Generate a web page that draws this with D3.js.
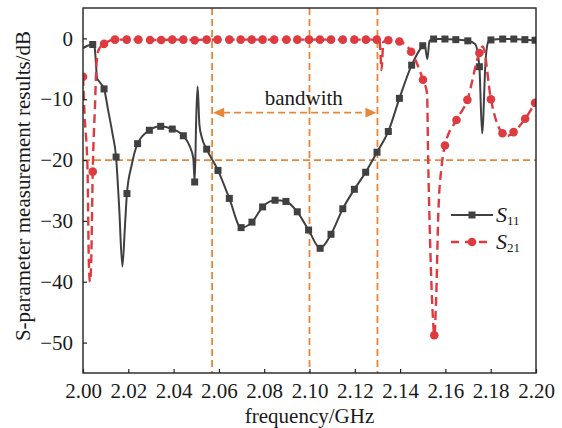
<!DOCTYPE html>
<html>
<head>
<meta charset="utf-8">
<script src="https://cdn.jsdelivr.net/npm/d3@7"></script>
<style>
  body { margin: 0; background: #fff; }
  text { font-family: "Liberation Serif", "Times New Roman", serif; fill: #1a1a1a; }
</style>
</head>
<body>
<svg id="chart" width="562" height="428"></svg>
<script>
// ---- data -------------------------------------------------------------
const freqTicks = [2.00, 2.02, 2.04, 2.06, 2.08, 2.10, 2.12, 2.14, 2.16, 2.18, 2.20];
const dbTicks = [0, -10, -20, -30, -40, -50];

// S11: measured points carrying square markers [GHz, dB]
const s11Markers = [
  [2.0043, -1.0], [2.0093, -8.3], [2.0146, -19.5], [2.0194, -25.5], [2.0241, -17.3],
  [2.0293, -15.1], [2.0343, -14.45], [2.0394, -14.9], [2.0443, -16.0], [2.0493, -23.6],
  [2.0546, -18.2], [2.0596, -21.7], [2.0646, -26.3], [2.0698, -31.1], [2.0746, -30.2],
  [2.0793, -27.7], [2.0848, -26.6], [2.0896, -26.8], [2.0946, -28.5], [2.0996, -31.5],
  [2.1047, -34.5], [2.1095, -32.2], [2.1147, -28.0], [2.1198, -24.8], [2.1248, -22.0],
  [2.1298, -18.7], [2.1348, -15.3], [2.1397, -9.85], [2.1451, -4.4], [2.1500, -1.2],
  [2.1548, -0.1], [2.1598, -0.1], [2.1646, -0.2], [2.1699, -0.4], [2.1750, -4.65],
  [2.1801, -0.25], [2.1853, -0.1], [2.1902, -0.1], [2.1951, -0.2], [2.1996, -0.3]
];
// S11: intermediate trace samples (resonances between markers)
const s11Trace = [
  [2.0000, -1.6], [2.0020, -1.2], [2.0051, -1.4], [2.0057, -4.0], [2.0062, -6.6],
  [2.0070, -7.0], [2.0080, -7.5], [2.0112, -12.0], [2.0130, -15.6], [2.0160, -28.0],
  [2.0174, -37.5], [2.0185, -31.0], [2.0215, -20.8], [2.0472, -17.8], [2.0487, -19.7],
  [2.0500, -13.0], [2.0506, -7.9], [2.0514, -14.2], [2.0524, -16.2], [2.1508, -0.9],
  [2.1520, -3.4], [2.1530, -0.4], [2.1731, -0.9], [2.1762, -15.6], [2.1778, -3.3],
  [2.1790, -0.5], [2.2000, -0.3]
];

// S21: measured points carrying circle markers [GHz, dB]
const s21Markers = [
  [2.0000, -6.3], [2.0043, -21.9], [2.0093, -0.9], [2.0141, -0.2], [2.0193, -0.2],
  [2.0244, -0.2], [2.0296, -0.25], [2.0345, -0.25], [2.0394, -0.2], [2.0443, -0.2],
  [2.0493, -0.3], [2.0546, -0.2], [2.0594, -0.2], [2.0646, -0.2], [2.0696, -0.2],
  [2.0745, -0.2], [2.0793, -0.2], [2.0844, -0.2], [2.0898, -0.2], [2.0946, -0.2],
  [2.0998, -0.2], [2.1046, -0.2], [2.1095, -0.2], [2.1147, -0.2], [2.1198, -0.2],
  [2.1249, -0.2], [2.1297, -0.2], [2.1348, -0.3], [2.1397, -0.5], [2.1449, -2.2],
  [2.1501, -6.8], [2.1551, -48.8], [2.1598, -17.6], [2.1649, -13.4], [2.1697, -10.1],
  [2.1750, -2.4], [2.1801, -10.0], [2.1852, -15.6], [2.1901, -15.4], [2.1952, -13.2],
  [2.1996, -10.6]
];
// S21: intermediate trace samples
const s21Trace = [
  [2.0007, -12.6], [2.0020, -21.5], [2.0026, -37.0], [2.0031, -40.0], [2.0036, -37.0],
  [2.0053, -11.0], [2.0060, -4.0], [2.0070, -1.8], [2.0497, -0.9], [2.0503, -0.25],
  [2.1310, -0.6], [2.1318, -5.2], [2.1326, -0.6], [2.1519, -9.0], [2.1524, -20.0],
  [2.1530, -30.0], [2.1538, -40.0], [2.1545, -46.0], [2.1559, -43.0], [2.1569, -28.5],
  [2.1584, -20.8], [2.1765, -1.3], [2.1877, -16.0]
];

// passband markers
const bandEdges = [2.057, 2.13];
const centerFreq = 2.10;
const refLevel = -20;
const arrowLevel = -12.2;
const bandLabel = "bandwith";

// ---- layout -----------------------------------------------------------
const svg = d3.select("#chart");
const plotLeft = 83, plotRight = 536, plotTop = 8, plotBottom = 373;
const x = d3.scaleLinear().domain([2.0, 2.2]).range([plotLeft, plotRight]);
const y = d3.scaleLinear().domain([-55, 5]).range([plotBottom, plotTop]);

const colS11 = "#404040", colS21 = "#de3b41", colGuide = "#e8873a";

svg.append("defs").append("clipPath").attr("id", "plotClip")
  .append("rect").attr("x", plotLeft).attr("y", plotTop)
  .attr("width", plotRight - plotLeft).attr("height", plotBottom - plotTop);

const plot = svg.append("g").attr("clip-path", "url(#plotClip)");

// ---- guide lines ------------------------------------------------------
const guides = plot.append("g")
  .attr("stroke", colGuide).attr("stroke-width", 1.8)
  .attr("stroke-dasharray", "7,4").attr("fill", "none");

guides.selectAll("line.v").data([bandEdges[0], centerFreq, bandEdges[1]]).join("line")
  .attr("class", "v")
  .attr("x1", d => x(d)).attr("x2", d => x(d))
  .attr("y1", y(5)).attr("y2", y(-55));

guides.append("line")
  .attr("x1", x(2.0)).attr("x2", x(2.2))
  .attr("y1", y(refLevel)).attr("y2", y(refLevel));

// bandwidth arrow
const ay = y(arrowLevel);
const ax0 = x(bandEdges[0]), ax1 = x(bandEdges[1]);
const headLen = 11, headHalf = 4.8;
guides.append("line")
  .attr("x1", ax0 + headLen).attr("x2", ax1 - headLen)
  .attr("y1", ay).attr("y2", ay);
plot.append("path")
  .attr("fill", colGuide)
  .attr("d", `M${ax0 + 1},${ay} L${ax0 + 1 + headLen},${ay - headHalf} L${ax0 + 1 + headLen},${ay + headHalf} Z`);
plot.append("path")
  .attr("fill", colGuide)
  .attr("d", `M${ax1 - 1},${ay} L${ax1 - 1 - headLen},${ay - headHalf} L${ax1 - 1 - headLen},${ay + headHalf} Z`);

svg.append("text")
  .attr("x", (ax0 + ax1) / 2 + 9).attr("y", ay - 8)
  .attr("text-anchor", "middle").attr("font-size", 21)
  .text(bandLabel);

// ---- curves -----------------------------------------------------------
const byFreq = (a, b) => a[0] - b[0];
const s11Line = s11Markers.concat(s11Trace).sort(byFreq);
const s21Line = s21Markers.concat(s21Trace).sort(byFreq);

const lineGen = d3.line()
  .x(d => x(d[0])).y(d => y(d[1]))
  .curve(d3.curveMonotoneX);

plot.append("path").datum(s11Line)
  .attr("fill", "none").attr("stroke", colS11).attr("stroke-width", 2)
  .attr("stroke-linejoin", "round")
  .attr("d", lineGen);

const sq = 7;
plot.append("g").selectAll("rect").data(s11Markers).join("rect")
  .attr("x", d => x(d[0]) - sq / 2).attr("y", d => y(d[1]) - sq / 2)
  .attr("width", sq).attr("height", sq).attr("fill", colS11);

plot.append("path").datum(s21Line)
  .attr("fill", "none").attr("stroke", colS21).attr("stroke-width", 2.4)
  .attr("stroke-dasharray", "9,5")
  .attr("d", lineGen);

plot.append("g").selectAll("circle").data(s21Markers).join("circle")
  .attr("cx", d => x(d[0])).attr("cy", d => y(d[1]))
  .attr("r", 4.3).attr("fill", colS21);

// ---- axes -------------------------------------------------------------
const xAxis = d3.axisBottom(x).tickValues(freqTicks)
  .tickSizeInner(-4).tickSizeOuter(0).tickPadding(10)
  .tickFormat(d3.format(".2f"));
const gx = svg.append("g").attr("transform", `translate(0,${plotBottom})`).call(xAxis);
gx.select(".domain").remove();
gx.selectAll(".tick line").attr("stroke", "#222").attr("stroke-width", 1.2);
gx.selectAll(".tick text").attr("font-size", 21)
  .attr("font-family", "Liberation Serif, Times New Roman, serif").attr("fill", "#1a1a1a");

const yAxis = d3.axisLeft(y).tickValues(dbTicks)
  .tickSizeInner(-4).tickSizeOuter(0).tickPadding(10)
  .tickFormat(d3.format("d"));
const gy = svg.append("g").attr("transform", `translate(${plotLeft},0)`).call(yAxis);
gy.select(".domain").remove();
gy.selectAll(".tick line").attr("stroke", "#222").attr("stroke-width", 1.2);
gy.selectAll(".tick text").attr("font-size", 21)
  .attr("font-family", "Liberation Serif, Times New Roman, serif").attr("fill", "#1a1a1a");

// frame
svg.append("rect")
  .attr("x", plotLeft).attr("y", plotTop)
  .attr("width", plotRight - plotLeft).attr("height", plotBottom - plotTop)
  .attr("fill", "none").attr("stroke", "#222").attr("stroke-width", 1.4);

// axis titles
svg.append("text")
  .attr("x", (plotLeft + plotRight) / 2).attr("y", 423)
  .attr("text-anchor", "middle").attr("font-size", 21)
  .text("frequency/GHz");

svg.append("text")
  .attr("transform", "translate(30,186) rotate(-90)")
  .attr("text-anchor", "middle").attr("font-size", 21)
  .text("S-parameter measurement results/dB");

// ---- legend -----------------------------------------------------------
const legend = svg.append("g");
const legendItems = [
  { sub: "11", color: colS11, dash: null, shape: "square", ly: 215 },
  { sub: "21", color: colS21, dash: "8,6", shape: "circle", ly: 242 }
];
legendItems.forEach(it => {
  legend.append("line")
    .attr("x1", 451).attr("x2", 493).attr("y1", it.ly).attr("y2", it.ly)
    .attr("stroke", it.color).attr("stroke-width", it.dash ? 2.4 : 2)
    .attr("stroke-dasharray", it.dash);
  if (it.shape === "square") {
    legend.append("rect").attr("x", 472 - sq / 2).attr("y", it.ly - sq / 2)
      .attr("width", sq).attr("height", sq).attr("fill", it.color);
  } else {
    legend.append("circle").attr("cx", 472).attr("cy", it.ly).attr("r", 4.3).attr("fill", it.color);
  }
  const t = legend.append("text").attr("x", 496).attr("y", it.ly + 7).attr("font-size", 22);
  t.append("tspan").attr("font-style", "italic").text("S");
  t.append("tspan").attr("font-size", 13).attr("dy", 3).text(it.sub);
});
</script>
</body>
</html>
